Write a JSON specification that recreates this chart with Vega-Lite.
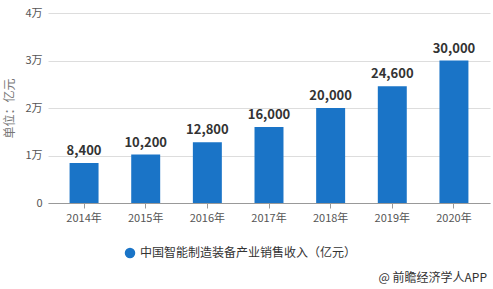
{
  "$schema": "https://vega.github.io/schema/vega-lite/v6.json",
  "width": 442,
  "height": 190,
  "autosize": {"type": "none"},
  "padding": {"left": 48, "top": 13, "right": 3, "bottom": 86},
  "background": "white",
  "config": {
    "font": "Noto Sans CJK SC",
    "view": {"stroke": null}
  },
  "title": {
    "text": "@ 前瞻经济学人APP",
    "orient": "bottom",
    "anchor": "end",
    "offset": 14,
    "dx": -3,
    "fontSize": 12,
    "fontWeight": "normal",
    "color": "#333333",
    "font": "Noto Sans CJK SC"
  },
  "data": {
    "values": [
      {"year": "2014年", "value": 8400, "series": "中国智能制造装备产业销售收入（亿元）"},
      {"year": "2015年", "value": 10200, "series": "中国智能制造装备产业销售收入（亿元）"},
      {"year": "2016年", "value": 12800, "series": "中国智能制造装备产业销售收入（亿元）"},
      {"year": "2017年", "value": 16000, "series": "中国智能制造装备产业销售收入（亿元）"},
      {"year": "2018年", "value": 20000, "series": "中国智能制造装备产业销售收入（亿元）"},
      {"year": "2019年", "value": 24600, "series": "中国智能制造装备产业销售收入（亿元）"},
      {"year": "2020年", "value": 30000, "series": "中国智能制造装备产业销售收入（亿元）"}
    ]
  },
  "encoding": {
    "x": {
      "field": "year",
      "type": "nominal",
      "scale": {"paddingInner": 0.53, "paddingOuter": 0.35},
      "axis": {
        "title": null,
        "labelAngle": 0,
        "labelColor": "#555555",
        "labelFontSize": 11,
        "labelPadding": 4,
        "domainColor": "#999999",
        "tickColor": "#999999",
        "tickSize": 5,
        "grid": false
      }
    },
    "y": {
      "field": "value",
      "type": "quantitative",
      "scale": {"domain": [0, 40000]},
      "axis": {
        "title": "单位：亿元",
        "titleColor": "#777777",
        "titleFontSize": 12,
        "titleFontWeight": "normal",
        "titlePadding": 8,
        "values": [0, 10000, 20000, 30000, 40000],
        "labelExpr": "datum.value == 0 ? '0' : datum.value / 10000 + '万'",
        "labelColor": "#555555",
        "labelFontSize": 11,
        "labelPadding": 6,
        "domain": false,
        "ticks": false,
        "gridColor": "#dddddd"
      }
    }
  },
  "layer": [
    {
      "mark": {"type": "bar", "color": "#1a74c7"},
      "encoding": {
        "color": {
          "field": "series",
          "type": "nominal",
          "scale": {"range": ["#1a74c7"]},
          "legend": {
            "title": null,
            "orient": "none",
            "legendX": 76,
            "legendY": 234,
            "symbolType": "circle",
            "symbolSize": 110,
            "labelFontSize": 12,
            "labelColor": "#333333",
            "labelLimit": 400
          }
        }
      }
    },
    {
      "mark": {"type": "text", "dy": -12, "fontSize": 13, "fontWeight": "bold", "color": "#333333"},
      "encoding": {
        "text": {"field": "value", "type": "quantitative", "format": ","}
      }
    }
  ]
}
